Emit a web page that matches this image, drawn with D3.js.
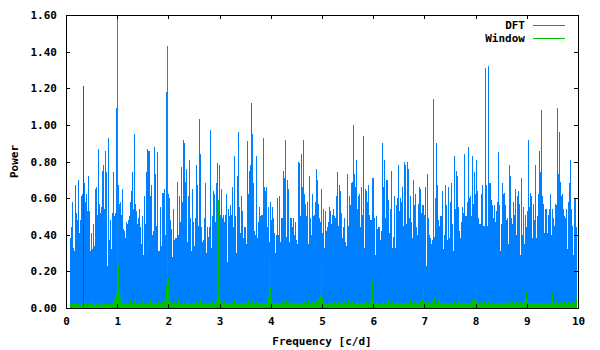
<!DOCTYPE html>
<html>
<head>
<meta charset="utf-8">
<script src="https://cdn.jsdelivr.net/npm/d3@7"></script>
<style>
  body { margin: 0; background: #fff; }
  text { font-family: "DejaVu Sans Mono", monospace; font-weight: bold; font-size: 11px; fill: #000; }
</style>
</head>
<body>
<div id="chart"></div>
<script>
// frequency grid of the periodogram (c/d)
var freqStart = 0.08;
var freqStep = 0.0195;

// DFT power
var dftPower = [
  .38,.44,.58,.33,.31,.67,.52,.48,.70,.41,.48,.61,.62,.37,.68,.58,.62,.53,.72,.53,
  .31,.41,.32,.46,.34,.65,.66,.51,.87,.57,.52,.55,.75,.78,.54,.86,.74,.23,.93,.37,
  .48,.32,.52,.74,.50,.52,1.09,.57,.67,.57,.58,.51,.65,.43,.42,.38,.47,.46,.48,.50,
  .58,.51,.64,.74,.54,.95,.57,.53,.46,.49,.54,.44,.35,.50,.29,.61,.46,.74,.87,.86,
  .86,.61,
  .67,.40,.42,.88,.73,.45,.85,.31,.31,.55,.34,.63,.63,.65,.40,1.18,.60,.62,.60,.48,
  .43,.28,.54,.37,.38,.38,.69,.40,.61,.47,.77,.58,.92,.90,.69,.76,.36,.61,.81,.49,
  .31,.65,.47,.34,.49,.78,.67,.45,1.03,.84,.44,.36,.37,.49,.68,.30,.44,.39,.44,.97,
  .33,.50,.64,.62,.47,.68,.79,.59,.78,.51,.65,.49,.51,.47,.51,.62,.25,.54,.50,.56,
  .51,.66,.44,.83,.50,
  .30,.72,.96,.55,.41,.61,.53,.38,.44,.44,.35,.91,.62,.75,.78,1.12,.95,.68,.42,.40,
  .83,.38,.47,.55,.50,.51,.51,.93,.66,.64,.66,.44,.55,.36,.58,.48,.55,.49,.41,.30,
  .40,.60,.40,.61,.36,.49,.49,.75,.71,.92,.39,.70,.65,.36,.49,.49,.44,.49,.40,.47,
  .37,.35,.80,.79,.50,.84,.66,.92,.62,.57,.50,.58,.35,.72,.49,.40,.62,.50,.51,.58,
  .76,.70,.57,.49,.47,
  .65,.41,.54,.33,.53,.42,.44,.47,.55,.53,.46,.51,.54,.50,.49,.61,.74,.45,.67,.64,
  .52,.38,.44,.49,.36,.34,.73,.45,.61,.56,.68,.69,1.00,.73,.66,.81,.54,.61,.62,.44,
  .66,.51,.94,.33,.65,.64,.58,.67,.51,.48,.48,.71,.71,.49,.29,.50,.43,.44,.44,.37,
  .42,.90,.66,.81,.49,.70,.70,.59,.41,.54,.75,.33,.39,.61,.33,.56,.60,.78,.53,.60,
  .58,.66,.45,.80,.78,
  .46,.80,.76,.49,.61,.47,.38,.70,.56,.62,.44,.40,.57,.66,.65,.52,.56,.56,.51,.66,
  .23,.73,.49,.40,.38,.35,.37,1.14,.39,.60,.90,.67,.48,.45,.50,.50,.64,.32,.40,.67,
  .56,.37,.66,.38,.58,.68,.46,.31,.83,.54,.75,.72,.55,.42,.38,.47,.55,.52,.84,.50,
  .50,.58,.88,.60,.61,.50,.83,.57,.74,.62,.81,.64,.49,.46,.46,.62,.67,.45,.45,1.31,
  .67,.45,1.32,.68,.68,
  .59,.56,.49,.56,.47,.53,.58,.85,.56,.31,.46,.68,.62,.63,.56,.48,.49,.35,.78,.72,
  .49,.46,.58,.51,.65,.40,.61,.64,.57,.29,.71,.40,.55,.35,.51,.44,.53,.92,.55,.63,
  .61,.38,.57,.48,.78,.38,.50,.62,.86,.74,1.08,.61,.57,.41,.54,.54,.41,.51,.54,.62,
  .40,.54,.49,.45,.57,.56,1.09,.73,.96,.69,.61,.62,.54,.50,.49,.54,.32,.58,.68,.81,
  .54,.45,.29,.60,.60,.44
];

// spectral window, same grid
var windowPower = [
  .02,.01,.02,.03,.02,.01,.02,.03,.02,.02,.01,.03,.02,.02,.03,.04,.02,.01,.02,.03,
  .02,.04,.03,.02,.01,.02,.03,.04,.03,.02,.01,.02,.02,.03,.02,.01,.02,.03,.02,.02,
  .03,.02,.03,.04,.05,
  .05,.08,1.72,.23,.10,.06,.04,.03,.04,.02,
  .03,.02,.04,.03,.02,.05,.04,.03,.02,.03,.04,.05,.03,.02,.03,.04,.03,.02,.04,.05,
  .03,.02,.03,.04,.02,.03,.05,.04,.03,.02,.03,.04,.02,.03,.04,.03,.02,.03,.04,.03,
  .04,
  .06,.12,1.43,.17,.07,.04,
  .03,.02,.03,.04,.03,.02,.03,.05,.04,.02,.03,.02,.04,.03,.02,.03,.04,.03,.05,.03,
  .02,.03,.04,.02,.03,.04,.03,.02,.03,.05,.04,.03,.02,.03,.04,.02,.03,.03,.04,.02,
  .03,.04,.03,.02,.03,
  .04,.06,.59,.08,.05,.03,
  .02,.03,.04,.03,.02,.03,.02,.04,.03,.03,.02,.03,.05,.03,.02,.04,.03,.02,.03,.04,
  .03,.02,.03,.04,.02,.03,.05,.03,.02,.03,.04,.03,.02,.03,.04,.03,.02,.04,.03,.02,
  .03,.04,.03,.02,.03,
  .04,.06,.27,.11,.05,.03,
  .02,.03,.04,.03,.02,.03,.04,.02,.03,.04,.03,.02,.03,.05,.03,.02,.03,.04,.03,.02,
  .04,.03,.02,.03,.04,.03,.02,.03,.04,.03,.02,.04,.03,.02,.03,.05,.03,.02,.03,.04,
  .03,.02,.03,.04,.03,.05,
  .05,.07,.25,.06,.04,
  .03,.02,.03,.02,.03,.04,.02,.03,.03,.02,.04,.03,.02,.03,.04,.03,.02,.03,.02,.03,
  .04,.03,.02,.03,.05,.03,.02,.03,.04,.02,.03,.02,.03,.04,.03,.02,.03,.02,.03,.04,
  .03,.02,.04,.03,.02,.03,
  .04,.05,.14,.05,.03,
  .02,.03,.04,.03,.02,.03,.02,.03,.04,.03,.02,.03,.04,.05,.03,.02,.03,.04,.03,.02,
  .03,.02,.04,.03,.02,.03,.04,.03,.02,.03,.04,.03,.02,.03,.04,.05,.03,.02,.03,.04,
  .02,.03,.04,.03,.02,.04,
  .04,.05,.10,.04,.03,
  .02,.03,.04,.03,.02,.03,.04,.03,.06,.03,.02,.03,.05,.04,.03,.02,.03,.04,.03,.02,
  .03,.04,.03,.02,.03,.04,.03,.02,.04,.03,.02,.03,.04,.07,.03,.02,.03,.04,.03,.02,
  .03,.04,.03,.02,.03,.04,.05,
  .04,.05,.11,.04,.03,
  .02,.03,.04,.03,.02,.03,.04,.03,.02,.03,.04,.05,.03,.02,.03,.04,.03,.02,.03,.04,
  .03,.02,.03,.04,.03,.02,.03,.04,.03,.02,.04,.03,.02,.03,.04,.03,.02,.03,.04,.03,
  .02,.03,.04,.03,.02,.04,
  .04,.06,.09,.05,.03,
  .02,.03,.04,.03,.02,.03,.04,.03,.02,.03,.04,.03,.02,.03,.04,.03,.05,.03,.02,.03,
  .04,.03,.02,.08,.03,.02,.03,.04,.03,.02,.03,.04,.03,.02,.03,.04,.03,.02,.03,.04,
  .03,.02,.03,.04,.03,.02,.04,.06
];

// single marked peak (red)
var peakFreq = [0.35];
var peakPower = [1.21];

var xTicks = [0, 1, 2, 3, 4, 5, 6, 7, 8, 9, 10];
var yTicks = [0, 0.2, 0.4, 0.6, 0.8, 1.0, 1.2, 1.4, 1.6];
var seriesNames = ["DFT", "Window"];

var colors = { dft: "#0080ff", win: "#00c000", peak: "#ff0000" };

var svgWidth = 600;
var svgHeight = 350;
var margin = { top: 15, right: 22, bottom: 42, left: 66 };
var width = svgWidth - margin.left - margin.right;
var height = svgHeight - margin.top - margin.bottom;

var svg = d3.select("#chart")
  .append("svg")
  .attr("width", svgWidth)
  .attr("height", svgHeight);

var chartGroup = svg.append("g")
  .attr("transform", `translate(${margin.left}, ${margin.top})`);

var xScale = d3.scaleLinear().domain([0, 10]).range([0, width]);
var yScale = d3.scaleLinear().domain([0, 1.6]).range([height, 0]);

svg.append("defs").append("clipPath").attr("id", "clip")
  .append("rect").attr("width", width).attr("height", height);

var plot = chartGroup.append("g")
  .attr("clip-path", "url(#clip)")
  .attr("shape-rendering", "crispEdges");

function impulses(values, color) {
  plot.append("g").selectAll("rect")
    .data(values)
    .enter()
    .append("rect")
    .attr("x", (d, i) => Math.floor(xScale(freqStart + i * freqStep)))
    .attr("width", 1)
    .attr("y", d => Math.round(yScale(d)))
    .attr("height", d => height - Math.round(yScale(d)))
    .attr("fill", color);
}

impulses(dftPower, colors.dft);
impulses(windowPower, colors.win);

plot.append("g").selectAll("rect")
  .data(peakFreq)
  .enter()
  .append("rect")
  .attr("x", (d) => Math.floor(xScale(d)))
  .attr("width", 1)
  .attr("y", (d, i) => Math.round(yScale(peakPower[i])))
  .attr("height", (d, i) => height - Math.round(yScale(peakPower[i])))
  .attr("fill", colors.peak);

// axes, gnuplot style: inward ticks mirrored on all sides
var bottomAxis = d3.axisBottom(xScale).tickValues(xTicks).tickFormat(d3.format("d")).tickSizeInner(-4).tickSizeOuter(0).tickPadding(9);
var topAxis = d3.axisTop(xScale).tickValues(xTicks).tickFormat("").tickSizeInner(-4).tickSizeOuter(0);
var leftAxis = d3.axisLeft(yScale).tickValues(yTicks).tickFormat(d3.format(".2f")).tickSizeInner(-4).tickSizeOuter(0).tickPadding(9);
var rightAxis = d3.axisRight(yScale).tickValues(yTicks).tickFormat("").tickSizeInner(-4).tickSizeOuter(0);

function styleAxis(g) {
  g.select(".domain").remove();
  g.selectAll("line").attr("stroke", "#000").attr("shape-rendering", "crispEdges");
  g.selectAll("text").attr("font-family", null).attr("font-size", null).attr("fill", "#000");
}

chartGroup.append("g").attr("transform", `translate(0, ${height})`).call(bottomAxis).call(styleAxis);
chartGroup.append("g").call(topAxis).call(styleAxis);
chartGroup.append("g").call(leftAxis).call(styleAxis);
chartGroup.append("g").attr("transform", `translate(${width}, 0)`).call(rightAxis).call(styleAxis);

chartGroup.append("rect")
  .attr("x", 0.5).attr("y", 0.5)
  .attr("width", width).attr("height", height)
  .attr("fill", "none")
  .attr("stroke", "#000")
  .attr("shape-rendering", "crispEdges");

// legend
var legendColors = [colors.dft, colors.win];
var legend = chartGroup.append("g");
seriesNames.forEach(function(name, i) {
  var ly = 10 + i * 13;
  legend.append("text")
    .attr("x", 459).attr("y", ly)
    .attr("dy", "0.35em")
    .attr("text-anchor", "end")
    .text(name);
  legend.append("line")
    .attr("x1", 467).attr("x2", 499)
    .attr("y1", ly).attr("y2", ly)
    .attr("stroke", legendColors[i])
    .attr("shape-rendering", "crispEdges");
});

// axis labels
chartGroup.append("text")
  .attr("transform", `translate(${-52}, ${height / 2}) rotate(-90)`)
  .attr("text-anchor", "middle")
  .attr("dy", "0.35em")
  .text("Power");

chartGroup.append("text")
  .attr("x", width / 2)
  .attr("y", height + 33)
  .attr("text-anchor", "middle")
  .attr("dy", "0.35em")
  .text("Frequency [c/d]");
</script>
</body>
</html>
